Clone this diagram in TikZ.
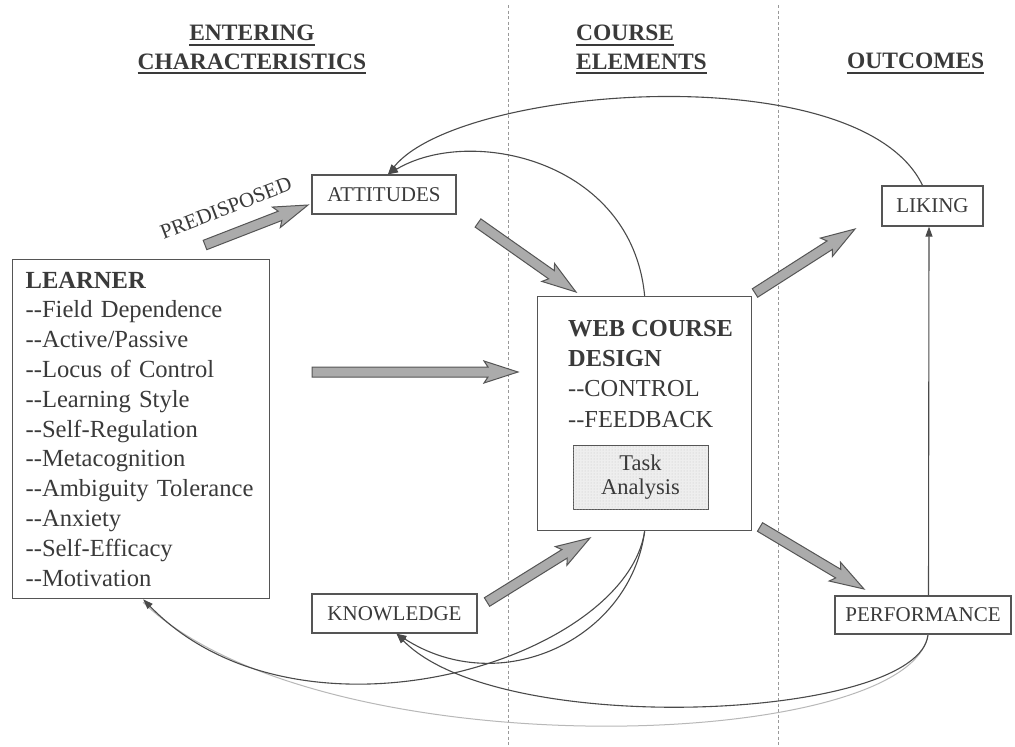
\documentclass[tikz,border=0pt]{standalone}
\usepackage{fontspec}
\setmainfont{Liberation Serif}[Ligatures=TeXOff]
\usetikzlibrary{calc,arrows.meta,patterns}

\definecolor{ink}{HTML}{3A3A3A}
\definecolor{frame}{HTML}{555555}
\definecolor{fatfill}{HTML}{ABABAB}
\definecolor{curve}{HTML}{4A4A4A}
\definecolor{faint}{HTML}{B8B8B8}
\definecolor{taskfill}{HTML}{EEEEEE}

% underlined column heading
\newcommand\hdr[1]{\setbox0=\hbox{#1}\rlap{\rule[-5pt]{\wd0}{1.8pt}}\box0}

% broad grey block arrow from #1 to #2
\newcommand\fatarrow[2]{%
  \coordinate (fah) at ($(#2)!30pt!(#1)$);
  \coordinate (fab) at ($(#2)!34pt!(#1)$);
  \draw[fat] ($(#1)!5pt!90:(#2)$) -- ($(fah)!5pt!90:(#2)$) -- ($(fab)!11pt!90:(#2)$)
    -- (#2) -- ($(fab)!11pt!-90:(#2)$) -- ($(fah)!5pt!-90:(#2)$)
    -- ($(#1)!5pt!-90:(#2)$) -- cycle;}

\begin{document}
\begin{tikzpicture}[x=1pt,y=-1pt,
  every node/.style={text=ink},
  box/.style={draw=frame,line width=1.3pt,inner sep=0pt,fill=white},
  smallbox/.style={box,font=\fontsize{21}{24}\selectfont},
  head/.style={font=\bfseries\fontsize{23.5}{28.5}\selectfont,inner sep=0pt},
  fat/.style={draw=frame,fill=fatfill,line width=1pt,line join=miter},
  link/.style={draw=curve,line width=1.1pt,-{Triangle[length=10pt,width=7pt]}},
  faintlink/.style={draw=faint,line width=1pt},
  divider/.style={draw=gray!80,line width=0.9pt,dash pattern=on 3pt off 2.5pt}]

\useasboundingbox[fill=white] (0,0) rectangle (1015,747);

% column dividers
\draw[divider] (508,5) -- (508,747);
\draw[divider] (778,5) -- (778,747);

% column headings
\node[head,align=center,anchor=north] (hdrA) at (252,25) {\hdr{ENTERING}\\\hdr{CHARACTERISTICS}};
\node[head,align=left,anchor=north west] (hdrB) at (576,25) {\hdr{COURSE}\\\hdr{ELEMENTS}};
\node[head,anchor=north west] (hdrC) at (847,53) {\hdr{OUTCOMES}};

% learner characteristics
\node[box,anchor=north west,minimum width=257pt,minimum height=339pt,text width=231pt,
  inner xsep=13pt,align=left,font=\fontsize{24.6}{29.8}\selectfont] (lrn) at (12,259)
  {\textbf{LEARNER}\\--Field Dependence\\--Active/Passive\\--Locus of Control\\
   --Learning Style\\--Self-Regulation\\--Metacognition\\--Ambiguity Tolerance\\
   --Anxiety\\--Self-Efficacy\\--Motivation};

% course design
\node[box,anchor=north west,minimum width=214pt,minimum height=234pt] (web) at (537,296) {};
\node[anchor=north west,inner sep=0pt,align=left,font=\fontsize{24.4}{30.3}\selectfont] (webtxt) at (568,320)
  {\textbf{WEB COURSE}\\\textbf{DESIGN}\\--CONTROL\\--FEEDBACK};
\node[draw=frame,line width=1pt,fill=taskfill,postaction={pattern=dots,pattern color=gray!45},
  minimum width=135pt,minimum height=64pt,inner sep=0pt,align=center,
  font=\fontsize{22.5}{24}\selectfont] (task) at (640.5,477) {Task\\Analysis};

% small boxes
\node[smallbox,minimum width=144pt,minimum height=39pt] (att) at (384,194.5) {ATTITUDES};
\node[smallbox,minimum width=165pt,minimum height=39pt] (kno) at (394.5,613.5) {KNOWLEDGE};
\node[smallbox,minimum width=101pt,minimum height=40pt] (lik) at (932.5,206) {LIKING};
\node[smallbox,minimum width=176pt,minimum height=38pt] (perf) at (923,615) {PERFORMANCE};

\node[rotate=21,inner sep=0pt,font=\fontsize{21}{24}\selectfont] (pred) at (226,208) {PREDISPOSED};

% block arrows
\coordinate (predA) at (205,245);  \coordinate (predB) at (308,205);
\coordinate (attA)  at (478,223);  \coordinate (attB)  at (576,292);
\coordinate (lrnA)  at (312,372);  \coordinate (lrnB)  at (518,372);
\coordinate (knoA)  at (487,602);  \coordinate (knoB)  at (590,538);
\coordinate (likA)  at (755,293);  \coordinate (likB)  at (855,229);
\coordinate (perfA) at (760,527);  \coordinate (perfB) at (864,589);
\fatarrow{predA}{predB}
\fatarrow{attA}{attB}
\fatarrow{lrnA}{lrnB}
\fatarrow{knoA}{knoB}
\fatarrow{likA}{likB}
\fatarrow{perfA}{perfB}

% feedback curves
\draw[faintlink] ([xshift=5pt]perf.south) .. controls (910,752) and (320,772) .. ([xshift=2pt,yshift=-3pt]lrn.south);
\draw[link] ([xshift=-10pt]lik.north) .. controls (860,55) and (460,85) .. ([xshift=4pt]att.north);
\draw[link] (web.north) .. controls (632,160) and (470,125) .. ([xshift=4pt]att.north);
\draw[link] (web.south) .. controls (630,640) and (500,700) .. ([xshift=2pt]kno.south);
\draw[link] (web.south) .. controls (625,660) and (300,760) .. ([xshift=2pt]lrn.south);
\draw[link] ([xshift=5pt]perf.south) .. controls (920,720) and (500,740) .. ([xshift=2pt]kno.south);
\draw[link] ([xshift=5.5pt]perf.north) -- ([xshift=-3.5pt]lik.south);

\end{tikzpicture}
\end{document}
